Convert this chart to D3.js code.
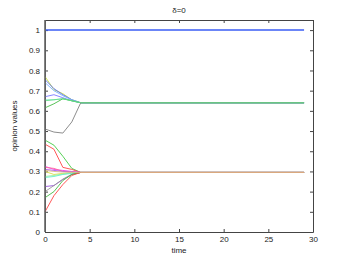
<!DOCTYPE html>
<html>
<head>
<meta charset="utf-8">
<script src="https://cdn.jsdelivr.net/npm/d3@7"></script>
<style>
  body { margin: 0; background: #fff; }
  text { font-family: "Liberation Sans", Arial, sans-serif; }
</style>
</head>
<body>
<svg id="chart" width="346" height="261"></svg>
<script>
// time steps where the values were read (opinions stay flat after t=4)
var times = [0, 1, 2, 3, 4, 29];

// one row per agent, colours per agent
var opinions = [
  [1, 1, 1, 1, 1, 1],
  [0.77, 0.705, 0.685, 0.655, 0.64, 0.64],
  [0.755, 0.71, 0.68, 0.655, 0.64, 0.64],
  [0.74, 0.70, 0.675, 0.655, 0.64, 0.64],
  [0.67, 0.68, 0.665, 0.65, 0.64, 0.64],
  [0.655, 0.655, 0.66, 0.65, 0.64, 0.64],
  [0.615, 0.635, 0.66, 0.65, 0.64, 0.64],
  [0.51, 0.495, 0.49, 0.545, 0.64, 0.64],
  [0.65, 0.655, 0.66, 0.65, 0.64, 0.64],
  [0.455, 0.43, 0.375, 0.315, 0.295, 0.295],
  [0.435, 0.41, 0.32, 0.31, 0.295, 0.295],
  [0.325, 0.31, 0.305, 0.30, 0.295, 0.295],
  [0.32, 0.315, 0.30, 0.298, 0.295, 0.295],
  [0.31, 0.305, 0.30, 0.297, 0.295, 0.295],
  [0.30, 0.285, 0.29, 0.293, 0.295, 0.295],
  [0.275, 0.28, 0.287, 0.292, 0.295, 0.295],
  [0.27, 0.275, 0.285, 0.29, 0.295, 0.295],
  [0.225, 0.23, 0.26, 0.285, 0.295, 0.295],
  [0.20, 0.23, 0.262, 0.285, 0.295, 0.295],
  [0.17, 0.20, 0.255, 0.285, 0.295, 0.295],
  [0.10, 0.18, 0.235, 0.28, 0.295, 0.295],
  [0.305, 0.30, 0.297, 0.296, 0.295, 0.295]
];
var colors = [
  "#3a5cf5",
  "#c8e040", "#5a6cf0", "#77b0ff", "#7a7aff", "#88f0c8", "#44bb44", "#808080", "#66dd88",
  "#44cc44", "#ff4444", "#ee44ee", "#ff6699", "#aa55ee", "#dddd44", "#99ee99", "#66eecc",
  "#9955dd", "#999999", "#44bb44", "#ff4444", "#d8b888"
];
var xTicks = [0, 5, 10, 15, 20, 25, 30];
var yTicks = [0, 0.1, 0.2, 0.3, 0.4, 0.5, 0.6, 0.7, 0.8, 0.9, 1];

var mLeft = 45, mRight = 313, mTop = 20, mBottom = 232;
var svg = d3.select("#chart");

var x = d3.scaleLinear().domain([0, 30]).range([mLeft, mRight]);
var y = d3.scaleLinear().domain([0, 1.05]).range([mBottom, mTop]);

// axes, matlab style ticks inside
svg.append("g")
  .attr("transform", "translate(0," + mBottom + ")")
  .call(d3.axisBottom(x).tickValues(xTicks).tickSizeInner(-3).tickSizeOuter(0).tickPadding(4))
svg.append("g")
  .attr("transform", "translate(" + mLeft + ",0)")
  .call(d3.axisLeft(y).tickValues(yTicks).tickFormat(d3.format("")).tickSizeInner(-3).tickSizeOuter(0).tickPadding(5))
svg.append("g")
  .attr("transform", "translate(0," + mTop + ")")
  .call(d3.axisTop(x).tickValues(xTicks).tickFormat("").tickSizeInner(-3).tickSizeOuter(0))
svg.append("g")
  .attr("transform", "translate(" + mRight + ",0)")
  .call(d3.axisRight(y).tickValues(yTicks).tickFormat("").tickSizeInner(-3).tickSizeOuter(0))

svg.selectAll(".domain").attr("stroke", "#444").attr("stroke-width", 1);
svg.selectAll(".tick line").attr("stroke", "#444");
svg.selectAll(".tick text").style("font-size", "8px").attr("fill", "#222");

var line = d3.line()
  .x(function(d, i) { return x(times[i]); })
  .y(function(d) { return y(d); });

svg.selectAll("path.agent")
  .data(opinions)
  .enter()
  .append("path")
    .attr("class", "agent")
    .attr("d", line)
    .attr("fill", "none")
    .attr("stroke", function(d, i) { return colors[i]; })
    .attr("stroke-width", function(d, i) { return i == 0 ? 1.5 : 0.9; })

// left axis drawn a bit heavier like the reference
svg.append("line").attr("x1", mLeft).attr("x2", mLeft).attr("y1", mTop).attr("y2", mBottom)
  .attr("stroke", "#666").attr("stroke-width", 1.6)

svg.append("text").attr("x", 179).attr("y", 13).attr("text-anchor", "middle")
  .attr("fill", "#222").style("font-size", "8px").text("δ=0")
svg.append("text").attr("x", 179).attr("y", 253).attr("text-anchor", "middle")
  .attr("fill", "#222").style("font-size", "8px").text("time")
svg.append("text").attr("transform", "translate(17,126) rotate(-90)").attr("text-anchor", "middle")
  .attr("fill", "#222").style("font-size", "8px").text("opinion values")
</script>
</body>
</html>
